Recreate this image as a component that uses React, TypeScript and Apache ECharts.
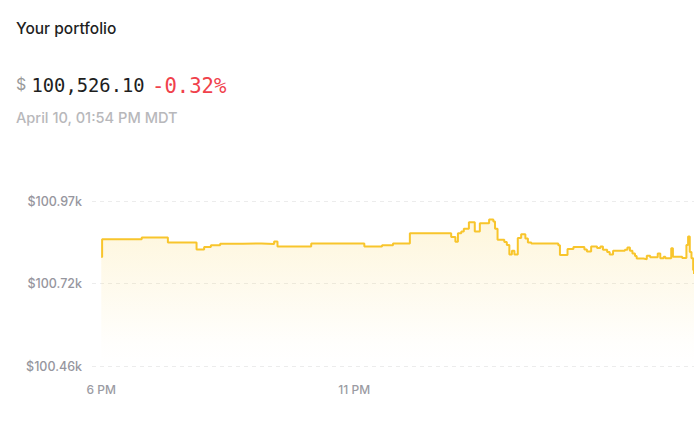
import React, { useEffect, useRef } from "react";
import * as echarts from "echarts";

// minutes after 6 PM
const times = [
  0, 1, 48, 79, 113, 122, 130, 141, 168, 190, 205, 209, 249, 312, 333, 346, 366,
  415, 420, 423, 427, 430, 436, 443, 449, 460, 465, 467, 470, 478, 481, 484, 487,
  490, 494, 498, 503, 506, 510, 542, 544, 553, 560, 573, 576, 581, 588, 592, 595,
  600, 603, 607, 621, 624, 627, 630, 633, 635, 643, 647, 651, 660, 663, 667, 669,
  676, 678, 689, 694, 696, 698, 700, 702, 703,
];
const values = [
  100799, 100854, 100859, 100844, 100822, 100830, 100835, 100840, 100841, 100839,
  100847, 100831, 100841, 100831, 100835, 100841, 100872, 100861, 100846, 100872,
  100878, 100886, 100906, 100878, 100903, 100915, 100909, 100886, 100852, 100845,
  100836, 100807, 100818, 100807, 100858, 100869, 100856, 100844, 100841, 100835,
  100805, 100824, 100830, 100822, 100816, 100831, 100827, 100831, 100821, 100814,
  100807, 100818, 100821, 100828, 100818, 100810, 100802, 100794, 100792, 100803,
  100798, 100810, 100795, 100800, 100795, 100826, 100800, 100796, 100836, 100862,
  100814, 100795, 100759, 100746,
];
const yTicks = [100462, 100717, 100972];
const xTicks = [0, 300];
const xLabels: Record<number, string> = { 0: "6 PM", 300: "11 PM" };

const X_MIN = -11;
const X_MAX = 703;
const Y_MIN = 100462;
const Y_MAX = 100972;

export default function App() {
  const ref = useRef<HTMLDivElement>(null);
  useEffect(() => {
    if (!ref.current) return;
    const chart = echarts.init(ref.current, null, { renderer: "svg" });
    const sans = "Inter, 'Noto Sans', sans-serif";
    const mono = "'DejaVu Sans Mono', monospace";
    chart.setOption({
      animation: false,
      graphic: [
        {
          type: "text",
          left: 16,
          top: 20,
          style: { text: "Your portfolio", font: `500 15.5px ${sans}`, fill: "#1f1f1f" },
        },
        {
          type: "text",
          left: 16,
          top: 76,
          style: { text: "$", font: `400 16px ${sans}`, fill: "#9a9a9a" },
        },
        {
          type: "text",
          left: 31.5,
          top: 75.5,
          style: { text: "100,526.10", font: `400 18.8px ${mono}`, fill: "#1e1e1e" },
        },
        {
          type: "text",
          left: 152,
          top: 75,
          style: { text: "-0.32%", font: `400 20.6px ${mono}`, fill: "#f0414b" },
        },
        {
          type: "text",
          left: 16,
          top: 110,
          style: { text: "April 10, 01:54 PM MDT", font: `500 14.6px ${sans}`, fill: "#b8b8bb" },
        },
      ],
      grid: { left: 92, right: 0, top: 201, bottom: 60, containLabel: false },
      xAxis: {
        type: "value",
        min: X_MIN,
        max: X_MAX,
        axisLine: { show: false },
        axisTick: { show: false, customValues: xTicks },
        splitLine: { show: false },
        axisLabel: {
          customValues: xTicks,
          margin: 17,
          color: "#9b9ba3",
          fontFamily: sans,
          fontSize: 12,
          fontWeight: 500,
          formatter: (v: number) => xLabels[v] ?? "",
        },
      },
      yAxis: {
        type: "value",
        min: Y_MIN,
        max: Y_MAX,
        axisLine: { show: false },
        axisTick: { show: false, customValues: yTicks },
        splitLine: {
          show: true,
          customValues: yTicks,
          lineStyle: { color: "#ececec", type: [4, 4], width: 1 },
        },
        axisLabel: {
          customValues: yTicks,
          margin: 10,
          color: "#96969e",
          fontFamily: sans,
          fontSize: 12.5,
          fontWeight: 500,
          formatter: (v: number) => "$" + (v / 1000).toFixed(2) + "k",
        },
      },
      series: [
        {
          type: "line",
          step: "end",
          showSymbol: false,
          data: times.map((t, i) => [t, values[i]]),
          lineStyle: { color: "#f8c52c", width: 2 },
          areaStyle: {
            origin: "start",
            color: new echarts.graphic.LinearGradient(0, 0, 0, 1, [
              { offset: 0, color: "rgba(250,205,60,0.26)" },
              { offset: 0.85, color: "rgba(250,205,60,0.02)" },
              { offset: 1, color: "rgba(250,205,60,0)" },
            ]),
          },
        },
      ],
    });
    return () => chart.dispose();
  }, []);
  return (
    <div
      ref={ref}
      style={{ position: "fixed", left: 0, top: 0, width: 694, height: 426, background: "#fff" }}
    />
  );
}
